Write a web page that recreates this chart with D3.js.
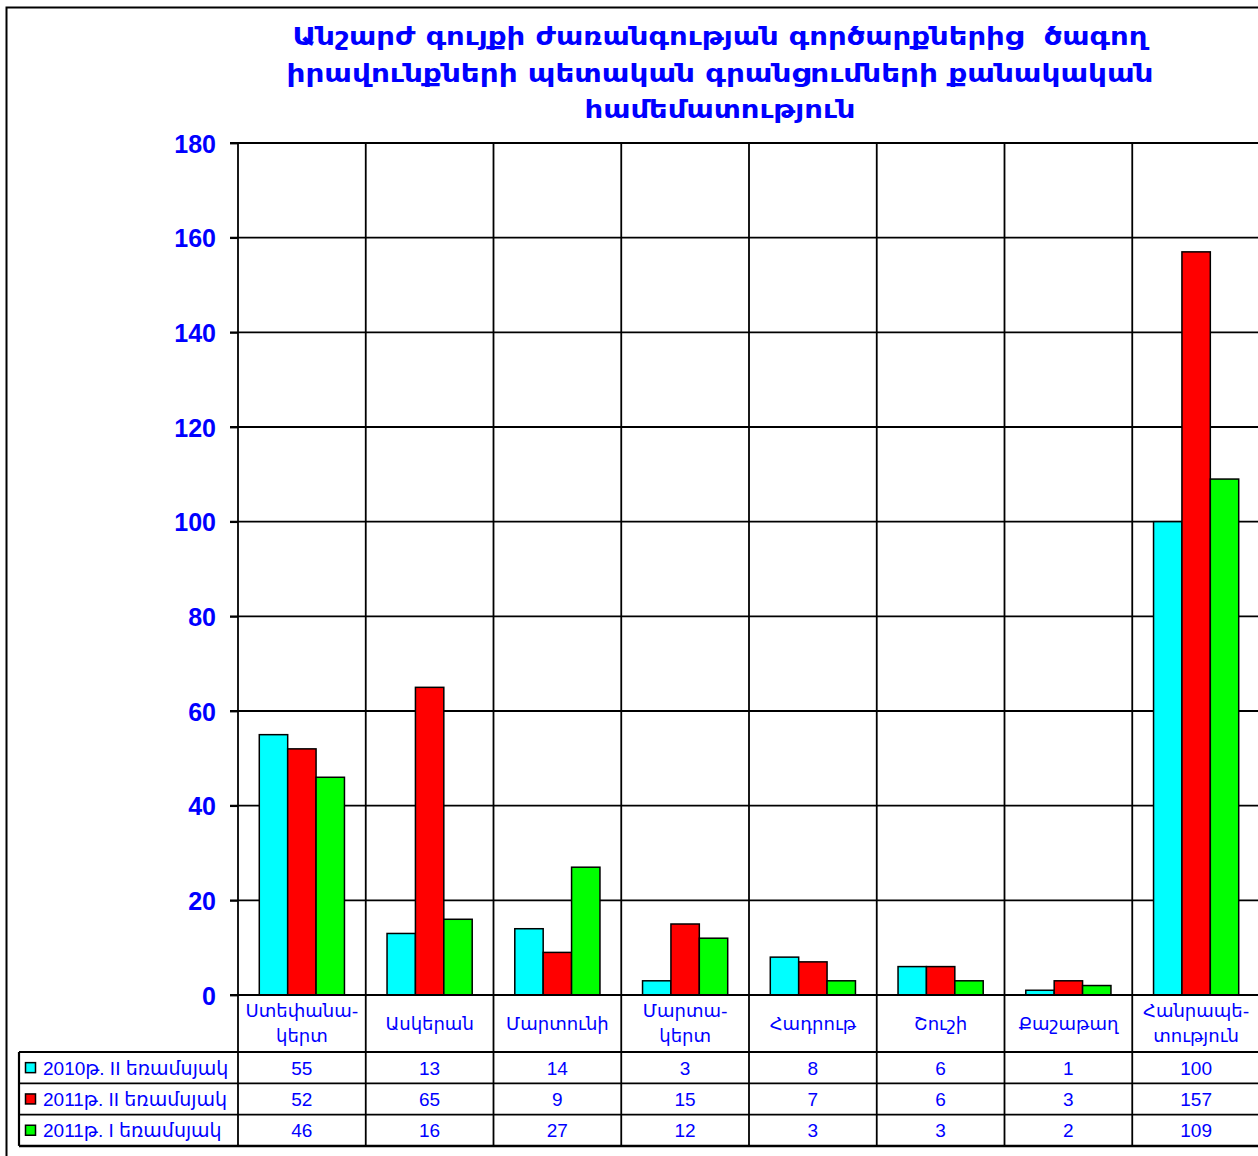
<!DOCTYPE html>
<html>
<head>
<meta charset="utf-8">
<script src="https://cdn.jsdelivr.net/npm/d3@7"></script>
<style>
  html, body { margin: 0; padding: 0; background: #fff; }
  svg { display: block; }
</style>
</head>
<body>
<script>
// Chart content
const titleLines = [
  "Անշարժ գույքի ժառանգության գործարքներից  ծագող",
  "իրավունքների պետական գրանցումների քանակական",
  "համեմատություն"
];
const categories = [
  ["Ստեփանա-", "կերտ"],
  ["Ասկերան"],
  ["Մարտունի"],
  ["Մարտա-", "կերտ"],
  ["Հադրութ"],
  ["Շուշի"],
  ["Քաշաթաղ"],
  ["Հանրապե-", "տություն"]
];
const seriesNames = ["2010թ. II եռամսյակ", "2011թ. II եռամսյակ", "2011թ. I եռամսյակ"];
const seriesColors = ["#00ffff", "#ff0000", "#00ff00"];
const values2010Q2 = [55, 13, 14, 3, 8, 6, 1, 100];
const values2011Q2 = [52, 65, 9, 15, 7, 6, 3, 157];
const values2011Q1 = [46, 16, 27, 12, 3, 3, 2, 109];
const yTicks = [0, 20, 40, 60, 80, 100, 120, 140, 160, 180];

const seriesValues = [values2010Q2, values2011Q2, values2011Q1];

const W = 1258, H = 1156;
const plotLeft = 238, plotRight = 1260, plotTop = 143, plotBottom = 995;
const tableTop = 1052, rowH = 31.3, tableLeft = 19;
const blue = "#0000ff";
const armFont = "'DejaVu Sans', sans-serif";
const numFont = "'Liberation Sans', 'DejaVu Sans', sans-serif";

const svg = d3.select("body").append("svg")
  .attr("width", W).attr("height", H);

svg.append("rect").attr("width", W).attr("height", H).attr("fill", "#fff");

// outer frame
svg.append("rect")
  .attr("x", 6.5).attr("y", 7.5)
  .attr("width", W + 20).attr("height", H + 20)
  .attr("fill", "none").attr("stroke", "#000").attr("stroke-width", 2);

// title
const titleWidths = [855, 867, 271];
svg.append("g").selectAll("text").data(titleLines).join("text")
  .attr("x", 720)
  .attr("y", (d, i) => 45 + i * 36.5)
  .attr("text-anchor", "middle")
  .attr("font-family", armFont)
  .attr("font-weight", "bold")
  .attr("font-size", 24)
  .attr("fill", blue)
  .style("white-space", "pre")
  .attr("textLength", (d, i) => titleWidths[i])
  .attr("lengthAdjust", "spacingAndGlyphs")
  .text(d => d);

// scales
const idx = d3.range(categories.length);
const x = d3.scaleBand().domain(idx).range([plotLeft, plotRight]).paddingInner(0).paddingOuter(0);
const xs = d3.scaleBand().domain([0, 1, 2]).range([0, x.bandwidth()]).paddingInner(0).paddingOuter(0.75);
const y = d3.scaleLinear().domain([0, 180]).range([plotBottom, plotTop]);

// horizontal gridlines
svg.append("g").selectAll("line").data(yTicks).join("line")
  .attr("x1", plotLeft - 8).attr("x2", plotRight)
  .attr("y1", d => y(d)).attr("y2", d => y(d))
  .attr("stroke", "#000").attr("stroke-width", 1.8);

// y axis labels via d3 axis
const yAxis = svg.append("g")
  .attr("transform", `translate(${plotLeft},0)`)
  .call(d3.axisLeft(y).tickValues(yTicks).tickSize(8).tickPadding(14));
yAxis.select(".domain").remove();
yAxis.selectAll(".tick line").attr("stroke", "#000").attr("stroke-width", 1.8);
yAxis.selectAll(".tick text")
  .attr("font-family", numFont).attr("font-weight", "bold")
  .attr("font-size", 25).attr("fill", blue).attr("dy", "0.36em");

// vertical category boundaries (through the table)
const bounds = idx.map(i => x(i)).concat([plotRight]);
svg.append("g").selectAll("line").data(bounds).join("line")
  .attr("x1", d => d).attr("x2", d => d)
  .attr("y1", plotTop).attr("y2", tableTop + 3 * rowH)
  .attr("stroke", "#000").attr("stroke-width", 1.8);

// bars
const barG = svg.append("g");
seriesValues.forEach((vals, s) => {
  barG.append("g").selectAll("rect").data(vals).join("rect")
    .attr("x", (d, i) => x(i) + xs(s))
    .attr("y", d => y(d))
    .attr("width", xs.bandwidth())
    .attr("height", d => y(0) - y(d))
    .attr("fill", seriesColors[s])
    .attr("stroke", "#000").attr("stroke-width", 1.5);
});

// x axis line
svg.append("line")
  .attr("x1", plotLeft - 8).attr("x2", plotRight)
  .attr("y1", plotBottom).attr("y2", plotBottom)
  .attr("stroke", "#000").attr("stroke-width", 2.2);

// category labels
const catG = svg.append("g");
categories.forEach((lines, i) => {
  const cx = x(i) + x.bandwidth() / 2;
  const midY = (plotBottom + tableTop) / 2;
  lines.forEach((ln, j) => {
    catG.append("text")
      .attr("x", cx)
      .attr("y", midY + (j - (lines.length - 1) / 2) * 25)
      .attr("dy", "0.36em")
      .attr("text-anchor", "middle")
      .attr("font-family", armFont)
      .attr("font-size", 18)
      .attr("fill", blue)
      .text(ln);
  });
});

// data table rows
const tableG = svg.append("g");
d3.range(4).forEach(r => {
  tableG.append("line")
    .attr("x1", tableLeft).attr("x2", plotRight)
    .attr("y1", tableTop + r * rowH).attr("y2", tableTop + r * rowH)
    .attr("stroke", "#000").attr("stroke-width", r === 3 ? 2.5 : 1.8);
});
tableG.append("line")
  .attr("x1", tableLeft).attr("x2", tableLeft)
  .attr("y1", tableTop).attr("y2", tableTop + 3 * rowH)
  .attr("stroke", "#000").attr("stroke-width", 2.2);

seriesNames.forEach((name, s) => {
  const cy = tableTop + s * rowH + rowH / 2;
  tableG.append("rect")
    .attr("x", 25.5).attr("y", cy - 5).attr("width", 10).attr("height", 10)
    .attr("fill", seriesColors[s]).attr("stroke", "#000").attr("stroke-width", 1.5);
  tableG.append("text")
    .attr("x", 43).attr("y", cy).attr("dy", "0.38em")
    .attr("font-family", numFont).attr("font-size", 19).attr("fill", blue)
    .text(name);
  seriesValues[s].forEach((v, i) => {
    tableG.append("text")
      .attr("x", x(i) + x.bandwidth() / 2).attr("y", cy).attr("dy", "0.38em")
      .attr("text-anchor", "middle")
      .attr("font-family", numFont).attr("font-size", 19).attr("fill", blue)
      .text(v);
  });
});
</script>
</body>
</html>
